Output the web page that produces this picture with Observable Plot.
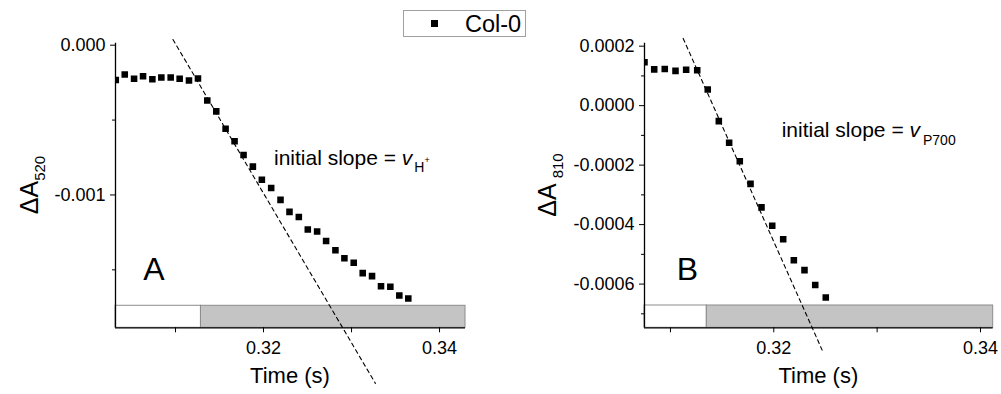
<!DOCTYPE html>
<html>
<head>
<meta charset="utf-8">
<script src="https://cdn.jsdelivr.net/npm/d3@7"></script>
<script src="https://cdn.jsdelivr.net/npm/@observablehq/plot@0.6"></script>
<style>
  body { margin: 0; background: white; }
  #wrap { position: relative; width: 1001px; height: 394px; overflow: hidden; font-family: "Liberation Sans", Arial, sans-serif; }
  #wrap svg { position: absolute; top: 0; }
  #legend { position: absolute; left: 403px; top: 10px; width: 121px; height: 25px; border: 1px solid #a0a0a0; background: white; z-index: 2; }
  #legend .sym { position: absolute; left: 27px; top: 9px; width: 7px; height: 7px; background: black; }
  #legend .lab { position: absolute; left: 61px; top: 0px; font-size: 23.5px; line-height: 26px; color: black; }
</style>
</head>
<body>
<div id="wrap">
  <div id="legend"><div class="sym"></div><div class="lab">Col-0</div></div>
</div>
<script>
// ---------- Panel A : ΔA520 (ECS) ----------
const timeA = [0.30321, 0.30423, 0.30529, 0.30631, 0.30737, 0.30839, 0.30945, 0.31047, 0.31153, 0.31255,
               0.31361, 0.31463, 0.31569, 0.31671, 0.31773, 0.31879, 0.31981, 0.32087, 0.32193, 0.32295,
               0.32401, 0.32503, 0.32609, 0.32711, 0.32817, 0.32919, 0.33025, 0.33127, 0.33233, 0.33335,
               0.33441, 0.33543, 0.33645];
const valueA = [-0.000233, -0.000196, -0.000224, -0.000207, -0.000227, -0.000216, -0.000216, -0.000224, -0.000236, -0.000222,
                -0.000369, -0.000442, -0.000558, -0.000642, -0.000733, -0.000811, -0.000898, -0.000953, -0.001033, -0.001113,
                -0.001147, -0.001231, -0.001244, -0.001307, -0.001369, -0.001422, -0.001453, -0.001522, -0.001542, -0.001609,
                -0.001613, -0.001671, -0.001691];
const slopeTimeA = [0.30971, 0.33271];
const slopeValueA = [0.000038, -0.002258];
const xDomainA = [0.30318, 0.34295];
const yDomainA = [-0.001887, 0.0000133];
const lightOffA = 0.31289;
const barTopA = -0.00174;
const xMajorA = [0.32, 0.34], xMinorA = [0.31, 0.33];
const yMajorA = [0, -0.001], yMinorA = [-0.0005, -0.0015];
const noteA = {t: 0.32125, v: -0.000802};
const letterA = {t: 0.30639, v: -0.001573};

// ---------- Panel B : ΔA810 (P700) ----------
const timeB = [0.30749, 0.30843, 0.30945, 0.31049, 0.31152, 0.31259, 0.31361, 0.31468, 0.31568, 0.31671,
               0.31775, 0.31881, 0.31985, 0.32091, 0.32194, 0.32297, 0.32401, 0.32503];
const valueB = [0.000146, 0.000122, 0.000123, 0.000117, 0.000121, 0.000119, 0.000054, -0.000052, -0.000125, -0.000187,
                -0.000263, -0.000342, -0.000404, -0.000449, -0.000520, -0.000553, -0.000603, -0.000645];
const slopeTimeB = [0.31123, 0.32468];
const slopeValueB = [0.000226, -0.000822];
const xDomainB = [0.30749, 0.34123];
const yDomainB = [-0.000747, 0.00021];
const lightOffB = 0.31352;
const barTopB = -0.000672;
const xMajorB = [0.32, 0.34], xMinorB = [0.31, 0.33];
const yMajorB = [0.0002, 0, -0.0002, -0.0004, -0.0006], yMinorB = [0.0001, -0.0001, -0.0003, -0.0005, -0.0007];
const noteB = {t: 0.32081, v: -0.000107};
const letterB = {t: 0.31065, v: -0.000588};

const FONT = '"Liberation Sans", Arial, sans-serif';

function panel(o) {
  const pts = o.time.map((t, i) => ({t, v: o.value[i]}));
  const slope = o.slopeT.map((t, i) => ({t, v: o.slopeV[i]}));
  const plot = Plot.plot({
    width: o.width, height: 394,
    marginLeft: o.marginLeft, marginRight: o.marginRight, marginTop: 42.7, marginBottom: 394 - 327.3,
    x: {domain: o.xDomain, axis: null},
    y: {domain: o.yDomain, axis: null},
    style: {fontFamily: FONT, fontSize: "18px", color: "black", background: "transparent", overflow: "visible"},
    marks: [
      Plot.rect([{x1: o.xDomain[0], x2: o.lightOff, y1: o.yDomain[0], y2: o.barTop}],
        {x1: "x1", x2: "x2", y1: "y1", y2: "y2", fill: "white", stroke: "#8c8c8c", strokeWidth: 1}),
      Plot.rect([{x1: o.lightOff, x2: o.xDomain[1], y1: o.yDomain[0], y2: o.barTop}],
        {x1: "x1", x2: "x2", y1: "y1", y2: "y2", fill: "#c4c4c4", stroke: "#8c8c8c", strokeWidth: 1}),
      Plot.line(slope, {x: "t", y: "v", stroke: "black", strokeWidth: 1.1, strokeDasharray: "4,3.5"}),
      Plot.dot(pts, {x: "t", y: "v", symbol: "square", r: 3.7, fill: "black", stroke: null, clip: true}),
      Plot.ruleX([o.xDomain[0]], {stroke: "black", strokeWidth: 1.3}),
      Plot.ruleY([o.yDomain[0]], {stroke: "black", strokeWidth: 1.3}),
      Plot.axisX(o.xMajor, {tickSize: 5, tickPadding: 8, tickFormat: d => d.toFixed(2), label: null, fontSize: 18}),
      Plot.axisX(o.xMinor, {tickSize: 5, tickFormat: () => "", label: null}),
      Plot.axisY(o.yMajor, {tickSize: 5, tickPadding: 5, tickFormat: o.fmt, label: null, fontSize: 18}),
      Plot.axisY(o.yMinor, {tickSize: 3, tickFormat: () => "", label: null})
    ]
  });
  plot.style.left = o.left + "px";
  const svg = d3.select(plot);
  const sx = plot.scale("x"), sy = plot.scale("y");
  const cx = (o.marginLeft + (o.width - o.marginRight)) / 2;
  const cy = (42.7 + 327.3) / 2;
  // x-axis title
  svg.append("text").attr("x", cx).attr("y", 383).attr("text-anchor", "middle")
    .attr("font-size", 22).attr("fill", "black").text("Time (s)");
  // y-axis title with subscript
  const yt = svg.append("text").attr("transform", `translate(${o.yTitleX},${cy}) rotate(-90)`)
    .attr("text-anchor", "middle").attr("font-size", 25).attr("fill", "black");
  yt.append("tspan").text("ΔA");
  yt.append("tspan").attr("dx", o.subGap).attr("dy", 7).attr("font-size", 15).text(o.sub);
  // panel letter
  svg.append("text").attr("x", sx.apply(o.letter.t)).attr("y", sy.apply(o.letter.v))
    .attr("text-anchor", "start").attr("font-size", 32).attr("fill", "black").text(o.letterText);
  // note
  const nt = svg.append("text").attr("x", sx.apply(o.note.t)).attr("y", sy.apply(o.note.v))
    .attr("text-anchor", "start").attr("font-size", 21).attr("fill", "black");
  nt.append("tspan").text("initial slope = ");
  nt.append("tspan").attr("font-style", "italic").text("v");
  o.noteSub(nt);
  document.getElementById("wrap").appendChild(plot);
}

panel({
  time: timeA, value: valueA, slopeT: slopeTimeA, slopeV: slopeValueA,
  xDomain: xDomainA, yDomain: yDomainA, lightOff: lightOffA, barTop: barTopA,
  xMajor: xMajorA, xMinor: xMinorA, yMajor: yMajorA, yMinor: yMinorA,
  fmt: d => d.toFixed(3), width: 500, left: 0, marginLeft: 115, marginRight: 35,
  yTitleX: 38, sub: "520", subGap: 0, letter: letterA, letterText: "A", note: noteA,
  noteSub: nt => {
    nt.append("tspan").attr("dx", 2).attr("dy", 7).attr("font-size", 14).text("H");
    nt.append("tspan").attr("dy", -9).attr("font-size", 9).text("+");
  }
});

panel({
  time: timeB, value: valueB, slopeT: slopeTimeB, slopeV: slopeValueB,
  xDomain: xDomainB, yDomain: yDomainB, lightOff: lightOffB, barTop: barTopB,
  xMajor: xMajorB, xMinor: xMinorB, yMajor: yMajorB, yMinor: yMinorB,
  fmt: d => (Math.abs(d) < 1e-12 ? 0 : d).toFixed(4), width: 501, left: 500, marginLeft: 144, marginRight: 8.3,
  yTitleX: 56, sub: "810", subGap: 5, letter: letterB, letterText: "B", note: noteB,
  noteSub: nt => {
    nt.append("tspan").attr("dx", 3).attr("dy", 8).attr("font-size", 14).text("P700");
  }
});
</script>
</body>
</html>
